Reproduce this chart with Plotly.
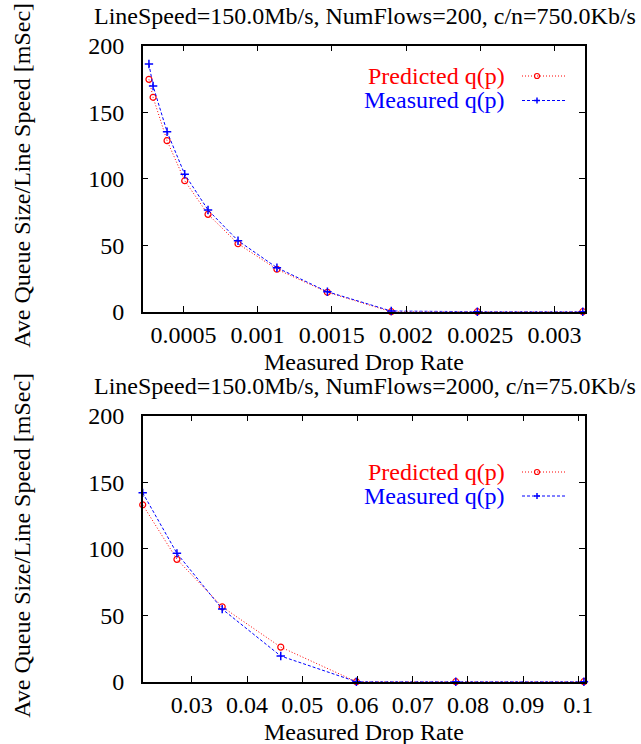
import plotly.graph_objects as go

# top panel: LineSpeed=150Mb/s, NumFlows=200
drop_200 = [0.000268, 0.000296, 0.00039, 0.000509, 0.000666, 0.000868,
            0.00113, 0.00147, 0.0019, 0.00248, 0.00319]
pred_200 = [174.7, 161.2, 128.6, 98.5, 73.2, 51.1, 31.9, 14.6, 0.0, 0.0, 0.0]
meas_200 = [186.2, 169.7, 135.3, 103.3, 76.5, 53.4, 33.1, 15.0, 0.5, 0.0, 0.0]

# bottom panel: LineSpeed=150Mb/s, NumFlows=2000
drop_2000 = [0.0211, 0.0273, 0.0355, 0.0461, 0.0598, 0.0778, 0.101]
pred_2000 = [133.0, 92.0, 56.3, 26.0, 0.0, 0.0, 0.0]
meas_2000 = [142.0, 96.5, 54.6, 19.3, 0.0, 0.0, 0.0]

top_ticks = [0.0005, 0.001, 0.0015, 0.002, 0.0025, 0.003]
top_labels = ["0.0005", "0.001", "0.0015", "0.002", "0.0025", "0.003"]
bot_ticks = [0.03, 0.04, 0.05, 0.06, 0.07, 0.08, 0.09, 0.1]
bot_labels = ["0.03", "0.04", "0.05", "0.06", "0.07", "0.08", "0.09", "0.1"]
y_ticks = [0, 50, 100, 150, 200]

titles = ["LineSpeed=150.0Mb/s, NumFlows=200, c/n=750.0Kb/s",
          "LineSpeed=150.0Mb/s, NumFlows=2000, c/n=75.0Kb/s"]
series_names = ["Predicted q(p)", "Measured q(p)"]
x_title = "Measured Drop Rate"
y_title = "Ave Queue Size/Line Speed [mSec]"

W, H = 641, 744
FONT = "Liberation Serif, Times New Roman, serif"
FS = 24
RED, BLUE = "#ff0000", "#0000ff"
RED_DASH, BLUE_DASH = "1px,2px", "3px,2px"

# plot boxes in pixels (left, right, top, bottom) and legend row centres
PL, PR = 142.7, 585
panels = [dict(top=45.7, bottom=311.7, legend=(76, 100.5)),
          dict(top=415.7, bottom=681.7, legend=(472, 496))]


def px(x):
    return x / W


def py(y):
    return 1 - y / H


fig = go.Figure()

for xs, pr, me, xa, ya in [(drop_200, pred_200, meas_200, "x", "y"),
                           (drop_2000, pred_2000, meas_2000, "x2", "y2")]:
    fig.add_trace(go.Scatter(x=xs, y=pr, mode="lines+markers", xaxis=xa, yaxis=ya,
                             line=dict(color=RED, width=1, dash=RED_DASH),
                             marker=dict(symbol="circle-open", size=6, color=RED,
                                         line=dict(width=1.2, color=RED)),
                             cliponaxis=False, showlegend=False))
    fig.add_trace(go.Scatter(x=xs, y=me, mode="lines+markers", xaxis=xa, yaxis=ya,
                             line=dict(color=BLUE, width=1, dash=BLUE_DASH),
                             marker=dict(symbol="cross-thin-open", size=6, color=BLUE,
                                         line=dict(width=1.5, color=BLUE)),
                             cliponaxis=False, showlegend=False))

axis_common = dict(showline=True, mirror="ticks", linecolor="black", linewidth=1.5,
                   ticks="inside", ticklen=6, tickcolor="black", tickwidth=1,
                   showgrid=False, zeroline=False, automargin=False,
                   tickfont=dict(family=FONT, size=FS, color="black"))

p0, p1 = panels
fig.update_layout(
    width=W, height=H,
    margin=dict(l=0, r=0, t=0, b=0),
    paper_bgcolor="white", plot_bgcolor="white",
    xaxis=dict(domain=[px(PL), px(PR)], range=[0.000226, 0.003205],
               tickvals=top_ticks, ticktext=top_labels, anchor="y",
               ticklabelstandoff=1, **axis_common),
    yaxis=dict(domain=[py(p0["bottom"]), py(p0["top"])], range=[0, 200], tickvals=y_ticks,
               anchor="x", ticklabelstandoff=12, **axis_common),
    xaxis2=dict(domain=[px(PL), px(PR)], range=[0.0211, 0.1012],
                tickvals=bot_ticks, ticktext=bot_labels, anchor="y2",
                ticklabelstandoff=1, **axis_common),
    yaxis2=dict(domain=[py(p1["bottom"]), py(p1["top"])], range=[0, 200], tickvals=y_ticks,
                anchor="x2", ticklabelstandoff=12, **axis_common),
)

annotations = []
shapes = []
for k, p in enumerate(panels):
    # panel title
    annotations.append(dict(text=titles[k], x=px(365), y=py(p["top"] - 29.5),
                            xref="paper", yref="paper", xanchor="center", yanchor="middle",
                            showarrow=False, font=dict(family=FONT, size=FS, color="black")))
    # axis titles
    annotations.append(dict(text=x_title, x=px((PL + PR) / 2), y=py(p["bottom"] + 50),
                            xref="paper", yref="paper", xanchor="center", yanchor="middle",
                            showarrow=False, font=dict(family=FONT, size=FS, color="black")))
    annotations.append(dict(text=y_title, x=px(22), y=py((p["top"] + p["bottom"]) / 2 - 3),
                            xref="paper", yref="paper", xanchor="center", yanchor="middle",
                            textangle=-90, showarrow=False,
                            font=dict(family=FONT, size=FS, color="black")))
    # key, gnuplot style: text on the left, sample on the right
    for i, (col, dash) in enumerate([(RED, RED_DASH), (BLUE, BLUE_DASH)]):
        ly = p["legend"][i]
        annotations.append(dict(text=series_names[i], x=px(507), y=py(ly),
                                xref="paper", yref="paper", xanchor="right", yanchor="middle",
                                showarrow=False, font=dict(family=FONT, size=FS, color=col)))
        shapes.append(dict(type="line", xref="paper", yref="paper",
                           x0=px(522), x1=px(566), y0=py(ly), y1=py(ly),
                           line=dict(color=col, width=1, dash=dash)))
        mx = 537
        if i == 0:
            shapes.append(dict(type="circle", xref="paper", yref="paper",
                               x0=px(mx - 2.5), x1=px(mx + 2.5), y0=py(ly + 2.5), y1=py(ly - 2.5),
                               line=dict(color=col, width=1.2)))
        else:
            shapes.append(dict(type="line", xref="paper", yref="paper",
                               x0=px(mx - 3), x1=px(mx + 3), y0=py(ly), y1=py(ly),
                               line=dict(color=col, width=1.5)))
            shapes.append(dict(type="line", xref="paper", yref="paper",
                               x0=px(mx), x1=px(mx), y0=py(ly - 3), y1=py(ly + 3),
                               line=dict(color=col, width=1.5)))

fig.update_layout(annotations=annotations, shapes=shapes)

# the page body has a default 8px margin; drop it so the figure fills the window
fig.write_html("out.html", config={"displayModeBar": False},
               post_script="document.body.style.margin='0';document.body.style.overflow='hidden';")
